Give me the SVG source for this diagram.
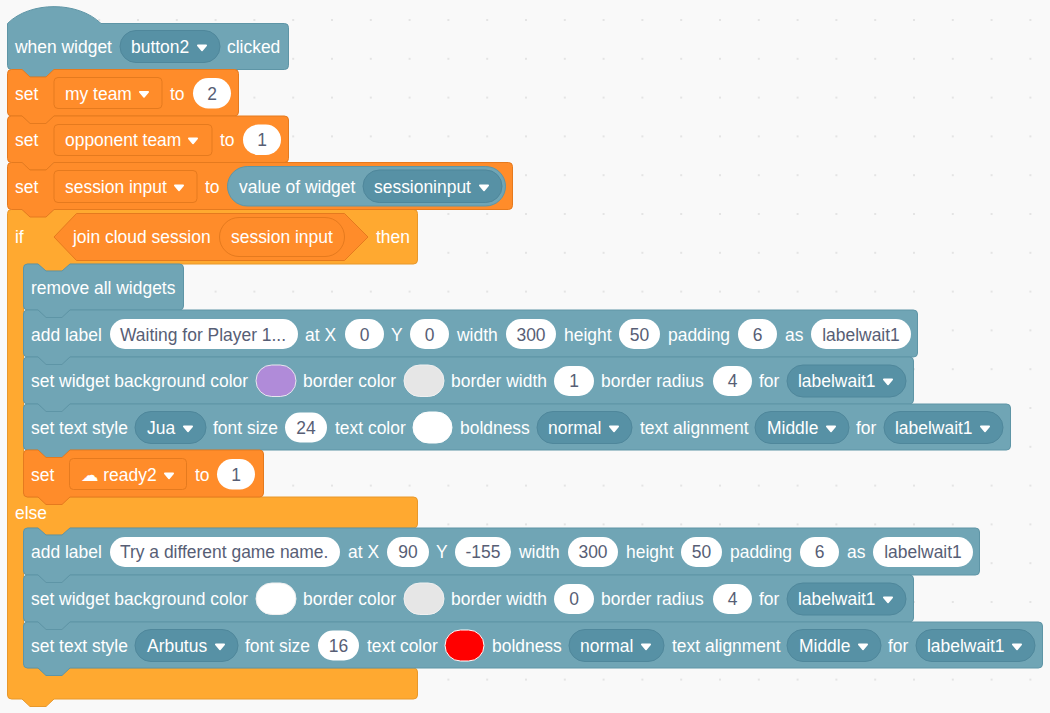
<svg xmlns="http://www.w3.org/2000/svg" width="1050" height="713" viewBox="0 0 1050 713">
<style>
text{font-family:"Liberation Sans","DejaVu Sans",sans-serif;font-size:17.45px;fill:#fff}
.v{fill:#575E75;text-anchor:middle}
.vl{fill:#575E75}
.t{fill:#70A5B5;stroke:#5E95A6;stroke-width:1}
.o{fill:#FF8C2A;stroke:#E57A1E;stroke-width:1}
.y{fill:#FFA930;stroke:#E8982B;stroke-width:1}
.dt{fill:#5791A5;stroke:#4F879B;stroke-width:1}
.do{fill:#FF8C2A;stroke:#E57A1E;stroke-width:1}
.w{fill:#fff}
.wo{fill:#fff}
</style>
<defs>
<pattern id="grid" patternUnits="userSpaceOnUse" x="20.6" y="19" width="38.8" height="38.8"><rect width="2" height="2" fill="#E4E4E4"/></pattern>
<path id="a" d="M-4.2,-1.6H4.2L0,3.4Z" fill="#fff" stroke="#fff" stroke-width="1.6" stroke-linejoin="round"/>
</defs>
<rect width="1050" height="713" fill="#F9F9F9"/>
<rect width="1050" height="713" fill="url(#grid)"/>

<g id="if-block">
<path class="y" d="M7.500,213.500Q7.500,209.500 11.500,209.500H22L30,216.500H46L54,209.500H413.500Q417.500,209.500 417.500,213.500V260Q417.500,264 413.500,264H70L62,271H46L38,264H27.500Q23.500,264 23.500,268V493Q23.500,497 27.500,497H413.500Q417.500,497 417.500,501V524Q417.500,528 413.500,528H70L62,535H46L38,528H27.500Q23.500,528 23.500,532V664Q23.500,668 27.500,668H413.500Q417.500,668 417.500,672V695Q417.500,699 413.500,699H54L46,706.500H30L22,699H11.500Q7.500,699 7.500,695Z"/>
<text x="15" y="243">if</text>
<text x="15" y="519">else</text>
<text x="376" y="243">then</text>
<g id="join-cloud-session">
<path class="o" d="M54,237L76.500,213.500H344.500L368,237L344.500,260.500H76.500Z"/>
<text x="73" y="243">join cloud session</text>
<rect class="do" x="219.500" y="217.500" width="125" height="39" rx="19.500"/>
<text x="231" y="243">session input</text>
</g>
</g>

<g id="when-clicked">
<path class="t" d="M7.500,23.500C30,1 78,1 101,23.500H284.500Q288.500,23.500 288.500,27.500V65.500Q288.500,69.500 284.500,69.500H54L46,77H30L22,69.500H11.500Q7.500,69.500 7.500,65.500Z"/>
<text x="15" y="53">when widget</text>
<rect class="dt" x="120" y="30.500" width="100" height="32" rx="16"/>
<text x="131" y="53">button2</text><use href="#a" x="202" y="47"/>
<text x="227" y="53">clicked</text>
</g>

<g id="set-my-team">
<path class="o" d="M7.500,73.500Q7.500,69.500 11.500,69.500H22L30,77H46L54,69.500H234.500Q238.500,69.500 238.500,73.500V112Q238.500,116 234.500,116H54L46,123.500H30L22,116H11.500Q7.500,116 7.500,112Z"/>
<text x="15" y="99.500">set</text>
<rect class="do" x="54" y="77.500" width="108" height="31" rx="4"/>
<text x="65" y="99.500">my team</text><use href="#a" x="144" y="93.500"/>
<text x="170" y="99.500">to</text>
<rect class="wo" x="193" y="78" width="38" height="30.500" rx="15.250"/><text class="v" x="212" y="99.500">2</text>
</g>

<g id="set-opponent-team">
<path class="o" d="M7.500,120Q7.500,116 11.500,116H22L30,123.500H46L54,116H284.500Q288.500,116 288.500,120V158.500Q288.500,162.500 284.500,162.500H54L46,170H30L22,162.500H11.500Q7.500,162.500 7.500,158.500Z"/>
<text x="15" y="146">set</text>
<rect class="do" x="54" y="124.500" width="158" height="31" rx="4"/>
<text x="65" y="146">opponent team</text><use href="#a" x="193" y="140"/>
<text x="220" y="146">to</text>
<rect class="wo" x="243" y="124.500" width="38" height="30.500" rx="15.250"/><text class="v" x="262" y="146">1</text>
</g>

<g id="set-session-input">
<path class="o" d="M7.500,166.500Q7.500,162.500 11.500,162.500H22L30,170H46L54,162.500H508.500Q512.500,162.500 512.500,166.500V205.500Q512.500,209.500 508.500,209.500H54L46,217H30L22,209.500H11.500Q7.500,209.500 7.500,205.500Z"/>
<text x="15" y="193">set</text>
<rect class="do" x="54" y="170.500" width="143" height="32" rx="4"/>
<text x="65" y="193">session input</text><use href="#a" x="179" y="187"/>
<text x="205" y="193">to</text>
<g id="value-of-widget">
<rect class="t" x="227.500" y="166.500" width="278" height="39.500" rx="19.750"/>
<text x="239" y="193">value of widget</text>
<rect class="dt" x="363" y="170" width="139" height="32.500" rx="16.250"/>
<text x="374" y="193">sessioninput</text><use href="#a" x="484" y="187"/>
</g>
</g>

<g id="remove-all-widgets">
<path class="t" d="M23.500,268Q23.500,264 27.500,264H38L46,271H62L70,264H179.500Q183.500,264 183.500,268V306Q183.500,310 179.500,310H70L62,317.500H46L38,310H27.500Q23.500,310 23.500,306Z"/>
<text x="31" y="294">remove all widgets</text>
</g>

<g id="add-label-1">
<path class="t" d="M23.500,314Q23.500,310 27.500,310H38L46,317.500H62L70,310H913.500Q917.500,310 917.500,314V353Q917.500,357 913.500,357H70L62,364.500H46L38,357H27.500Q23.500,357 23.500,353Z"/>
<text x="31" y="340.500">add label</text>
<rect class="w" x="110" y="319" width="188" height="30" rx="15"/><text class="vl" x="120" y="340.500">Waiting for Player 1...</text>
<text x="305" y="340.500">at X</text>
<rect class="w" x="345" y="319" width="39" height="30" rx="15"/><text class="v" x="364.500" y="340.500">0</text>
<text x="391" y="340.500">Y</text>
<rect class="w" x="410" y="319" width="39" height="30" rx="15"/><text class="v" x="429.500" y="340.500">0</text>
<text x="457" y="340.500">width</text>
<rect class="w" x="506" y="319" width="50" height="30" rx="15"/><text class="v" x="531" y="340.500">300</text>
<text x="564" y="340.500">height</text>
<rect class="w" x="619" y="319" width="41" height="30" rx="15"/><text class="v" x="639.500" y="340.500">50</text>
<text x="668" y="340.500">padding</text>
<rect class="w" x="738" y="319" width="39" height="30" rx="15"/><text class="v" x="757.500" y="340.500">6</text>
<text x="785" y="340.500">as</text>
<rect class="w" x="811" y="319" width="100" height="30" rx="15"/><text class="v" x="861" y="340.500">labelwait1</text>
</g>

<g id="set-widget-bg-1">
<path class="t" d="M23.500,361Q23.500,357 27.500,357H38L46,364.500H62L70,357H909.500Q913.500,357 913.500,361V400Q913.500,404 909.500,404H70L62,411.500H46L38,404H27.500Q23.500,404 23.500,400Z"/>
<text x="31" y="387">set widget background color</text>
<rect x="256" y="365" width="40" height="31.500" rx="15.750" fill="#B08BD9" stroke="#E8E8EE"/>
<text x="303" y="387">border color</text>
<rect x="404" y="365" width="40" height="31.500" rx="15.750" fill="#E6E6E6" stroke="#F0F0F0"/>
<text x="451" y="387">border width</text>
<rect class="w" x="554" y="366" width="40" height="30" rx="15"/><text class="v" x="574" y="387">1</text>
<text x="601" y="387">border radius</text>
<rect class="w" x="713" y="366" width="39" height="30" rx="15"/><text class="v" x="732.500" y="387">4</text>
<text x="759" y="387">for</text>
<rect class="dt" x="787" y="365" width="119" height="32" rx="16"/>
<text x="798" y="387">labelwait1</text><use href="#a" x="888" y="381"/>
</g>

<g id="set-text-style-1">
<path class="t" d="M23.500,408Q23.500,404 27.500,404H38L46,411.500H62L70,404H1006.500Q1010.500,404 1010.500,408V446Q1010.500,450 1006.500,450H70L62,457.500H46L38,450H27.500Q23.500,450 23.500,446Z"/>
<text x="31" y="434">set text style</text>
<rect class="dt" x="135" y="411.500" width="71" height="32" rx="16"/>
<text x="147" y="434">Jua</text><use href="#a" x="188" y="428"/>
<text x="213" y="434">font size</text>
<rect class="w" x="285" y="412.500" width="42" height="30" rx="15"/><text class="v" x="306" y="434">24</text>
<text x="335" y="434">text color</text>
<rect x="413" y="412" width="39" height="31" rx="15.500" fill="#fff" stroke="#fff"/>
<text x="460" y="434">boldness</text>
<rect class="dt" x="537" y="411.500" width="95" height="32" rx="16"/>
<text x="548" y="434">normal</text><use href="#a" x="614" y="428"/>
<text x="640" y="434">text alignment</text>
<rect class="dt" x="755" y="411.500" width="94" height="32" rx="16"/>
<text x="767" y="434">Middle</text><use href="#a" x="831" y="428"/>
<text x="856" y="434">for</text>
<rect class="dt" x="884" y="411.500" width="119" height="32" rx="16"/>
<text x="895" y="434">labelwait1</text><use href="#a" x="985" y="428"/>
</g>

<g id="set-ready2">
<path class="o" d="M23.500,454Q23.500,450 27.500,450H38L46,457.500H62L70,450H259.500Q263.500,450 263.500,454V493Q263.500,497 259.500,497H70L62,504.500H46L38,497H27.500Q23.500,497 23.500,493Z"/>
<text x="31" y="481">set</text>
<rect class="do" x="69.500" y="458.500" width="117" height="31" rx="4"/>
<text x="81" y="481">☁ ready2</text><use href="#a" x="169" y="475"/>
<text x="195" y="481">to</text>
<rect class="wo" x="217" y="459" width="38" height="30.500" rx="15.250"/><text class="v" x="236" y="481">1</text>
</g>

<g id="add-label-2">
<path class="t" d="M23.500,532Q23.500,528 27.500,528H38L46,535H62L70,528H975.500Q979.500,528 979.500,532V571Q979.500,575 975.500,575H70L62,582.500H46L38,575H27.500Q23.500,575 23.500,571Z"/>
<text x="31" y="558">add label</text>
<rect class="w" x="110" y="537" width="230" height="30" rx="15"/><text class="vl" x="120" y="558">Try a different game name.</text>
<text x="348" y="558">at X</text>
<rect class="w" x="387" y="537" width="42" height="30" rx="15"/><text class="v" x="408" y="558">90</text>
<text x="436" y="558">Y</text>
<rect class="w" x="455" y="537" width="56" height="30" rx="15"/><text class="v" x="483" y="558">-155</text>
<text x="519" y="558">width</text>
<rect class="w" x="568" y="537" width="50" height="30" rx="15"/><text class="v" x="593" y="558">300</text>
<text x="626" y="558">height</text>
<rect class="w" x="681" y="537" width="41" height="30" rx="15"/><text class="v" x="701.500" y="558">50</text>
<text x="730" y="558">padding</text>
<rect class="w" x="800" y="537" width="39" height="30" rx="15"/><text class="v" x="819.500" y="558">6</text>
<text x="847" y="558">as</text>
<rect class="w" x="873" y="537" width="100" height="30" rx="15"/><text class="v" x="923" y="558">labelwait1</text>
</g>

<g id="set-widget-bg-2">
<path class="t" d="M23.500,579Q23.500,575 27.500,575H38L46,582.500H62L70,575H909.500Q913.500,575 913.500,579V618Q913.500,622 909.500,622H70L62,629.500H46L38,622H27.500Q23.500,622 23.500,618Z"/>
<text x="31" y="605">set widget background color</text>
<rect x="256" y="583" width="40" height="31.500" rx="15.750" fill="#fff" stroke="#F0F0F0"/>
<text x="303" y="605">border color</text>
<rect x="404" y="583" width="40" height="31.500" rx="15.750" fill="#E6E6E6" stroke="#F0F0F0"/>
<text x="451" y="605">border width</text>
<rect class="w" x="554" y="584" width="40" height="30" rx="15"/><text class="v" x="574" y="605">0</text>
<text x="601" y="605">border radius</text>
<rect class="w" x="713" y="584" width="39" height="30" rx="15"/><text class="v" x="732.500" y="605">4</text>
<text x="759" y="605">for</text>
<rect class="dt" x="787" y="583" width="119" height="32" rx="16"/>
<text x="798" y="605">labelwait1</text><use href="#a" x="888" y="599"/>
</g>

<g id="set-text-style-2">
<path class="t" d="M23.500,626Q23.500,622 27.500,622H38L46,629.500H62L70,622H1038.500Q1042.500,622 1042.500,626V664Q1042.500,668 1038.500,668H70L62,675.500H46L38,668H27.500Q23.500,668 23.500,664Z"/>
<text x="31" y="651.500">set text style</text>
<rect class="dt" x="135" y="629.500" width="103" height="32" rx="16"/>
<text x="147" y="651.500">Arbutus</text><use href="#a" x="220" y="646"/>
<text x="245" y="651.500">font size</text>
<rect class="w" x="318" y="630.500" width="41" height="30" rx="15"/><text class="v" x="338.500" y="651.500">16</text>
<text x="367" y="651.500">text color</text>
<rect x="445" y="630" width="39" height="31" rx="15.500" fill="#FF0000" stroke="#fff"/>
<text x="492" y="651.500">boldness</text>
<rect class="dt" x="569" y="629.500" width="95" height="32" rx="16"/>
<text x="580" y="651.500">normal</text><use href="#a" x="646" y="646"/>
<text x="672" y="651.500">text alignment</text>
<rect class="dt" x="787" y="629.500" width="94" height="32" rx="16"/>
<text x="799" y="651.500">Middle</text><use href="#a" x="863" y="646"/>
<text x="888" y="651.500">for</text>
<rect class="dt" x="916" y="629.500" width="119" height="32" rx="16"/>
<text x="927" y="651.500">labelwait1</text><use href="#a" x="1017" y="646"/>
</g>
</svg>
